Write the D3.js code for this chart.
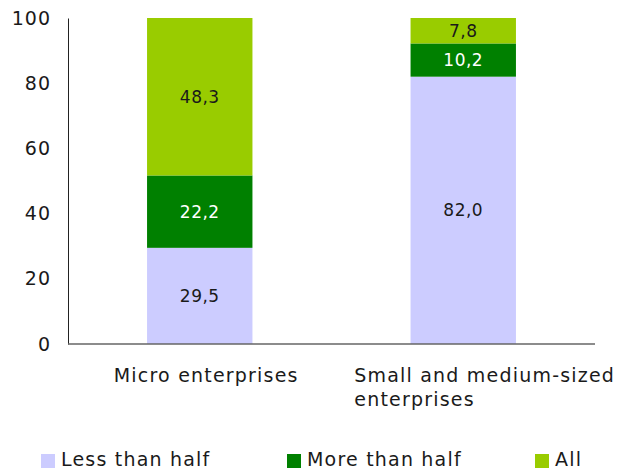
<!DOCTYPE html>
<html>
<head>
<meta charset="utf-8">
<script src="https://cdn.jsdelivr.net/npm/d3@7"></script>
<style>
  html, body { margin: 0; padding: 0; background: #fff; }
  svg { display: block; font-family: "DejaVu Sans", Verdana, sans-serif; }
</style>
</head>
<body>
<svg id="chart" width="622" height="468"></svg>
<script>
// Share of enterprises, stacked by group
const categories = ["Micro enterprises", "Small and medium-sized enterprises"];
const categoryLines = [["Micro enterprises"], ["Small and medium-sized", "enterprises"]];
const seriesNames = ["Less than half", "More than half", "All"];
const lessThanHalf = [29.5, 82.0];
const moreThanHalf = [22.2, 10.2];
const allShare = [48.3, 7.8];
const yTicks = [0, 20, 40, 60, 80, 100];

const colors = ["#ccccff", "#008000", "#99cc00"];
const labelColors = ["#1a1a1a", "#ffffff", "#1a1a1a"];

const svg = d3.select("#chart");
const margin = { left: 68, right: 27, top: 18, bottom: 124 };
const W = 622, H = 468;

const x = d3.scaleBand()
  .domain(categories)
  .range([margin.left, W - margin.right])
  .paddingInner(0.6)
  .paddingOuter(0.3);

const y = d3.scaleLinear()
  .domain([0, 100])
  .range([H - margin.bottom, margin.top]);

const rows = categories.map((c, i) => ({
  category: c,
  "Less than half": lessThanHalf[i],
  "More than half": moreThanHalf[i],
  "All": allShare[i]
}));

const stacked = d3.stack().keys(seriesNames)(rows);

const fmt = v => v.toFixed(1).replace(".", ",");

// Bars
const layers = svg.append("g").selectAll("g")
  .data(stacked)
  .join("g")
  .attr("fill", (d, i) => colors[i]);

layers.selectAll("rect")
  .data(d => d)
  .join("rect")
  .attr("x", d => x(d.data.category))
  .attr("width", x.bandwidth())
  .attr("y", d => y(d[1]))
  .attr("height", d => y(d[0]) - y(d[1]));

// Value labels
stacked.forEach((layer, i) => {
  svg.append("g").selectAll("text")
    .data(layer)
    .join("text")
    .attr("x", d => x(d.data.category) + x.bandwidth() / 2)
    .attr("y", d => (y(d[0]) + y(d[1])) / 2)
    .attr("dy", "0.36em")
    .attr("text-anchor", "middle")
    .attr("font-size", 17)
    .attr("letter-spacing", 0.5)
    .attr("fill", labelColors[i])
    .text(d => fmt(d[1] - d[0]));
});

// Y axis
const yAxis = svg.append("g")
  .attr("transform", `translate(${margin.left},0)`)
  .call(d3.axisLeft(y).tickValues(yTicks).tickSize(0).tickPadding(17).tickFormat(d3.format("d")));
yAxis.select(".domain").attr("stroke", "#222").attr("stroke-width", 1);
yAxis.selectAll("text").attr("font-size", 19).attr("fill", "#1a1a1a")
  .attr("letter-spacing", 1)
  .attr("font-family", "DejaVu Sans, Verdana, sans-serif");

// X axis baseline
svg.append("line")
  .attr("x1", margin.left).attr("x2", W - margin.right)
  .attr("y1", y(0)).attr("y2", y(0))
  .attr("stroke", "#666").attr("stroke-width", 1.5);

// Category labels: lines left-aligned, block offset from the band centre
const labelOffset = [-86, -109];
categories.forEach((c, i) => {
  const x0 = x(c) + x.bandwidth() / 2 + labelOffset[i];
  const t = svg.append("text")
    .attr("x", x0)
    .attr("y", 382)
    .attr("text-anchor", "start")
    .attr("font-size", 19)
    .attr("letter-spacing", 1.2)
    .attr("fill", "#1a1a1a");
  categoryLines[i].forEach((line, j) => {
    t.append("tspan")
      .attr("x", x0)
      .attr("dy", j === 0 ? 0 : 24)
      .text(line);
  });
});

// Legend
const legendX = [41, 287, 535];
const legend = svg.append("g").selectAll("g")
  .data(seriesNames)
  .join("g")
  .attr("transform", (d, i) => `translate(${legendX[i]},454)`);
legend.append("rect")
  .attr("width", 14).attr("height", 14)
  .attr("fill", (d, i) => colors[i]);
legend.append("text")
  .attr("x", 20).attr("y", 12)
  .attr("font-size", 19)
  .attr("letter-spacing", 1.2)
  .attr("fill", "#1a1a1a")
  .text(d => d);
</script>
</body>
</html>
